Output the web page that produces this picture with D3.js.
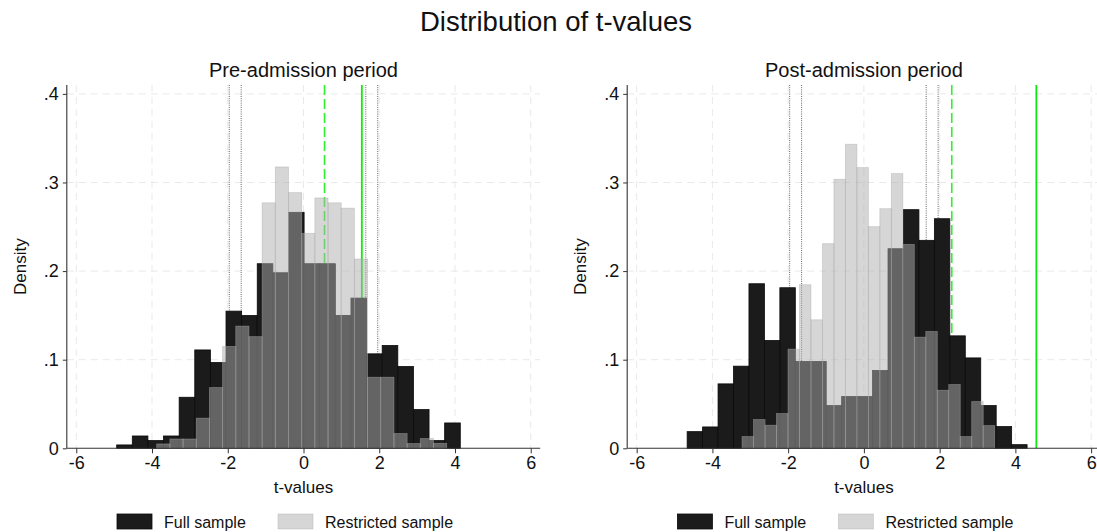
<!DOCTYPE html>
<html>
<head>
<meta charset="utf-8">
<script src="https://cdn.jsdelivr.net/npm/d3@7"></script>
<style>
  body { margin: 0; background: #fff; }
  svg { display: block; font-family: "Liberation Sans", Arial, sans-serif; }
</style>
</head>
<body>
<svg id="chart" width="1097" height="532"></svg>
<script>
// ---- data ----
const mainTitle = "Distribution of t-values";
const panelTitles = ["Pre-admission period", "Post-admission period"];
const seriesNames = ["Full sample", "Restricted sample"];
const xTicks = [-6, -4, -2, 0, 2, 4, 6];
const yTicks = [0, 0.1, 0.2, 0.3, 0.4];

// Histogram bins: first bin start (t), bin width (t), density per bin
const preFullStart = -4.933, preFullWidth = 0.4124;
const preFullDensity = [0.0038, 0.0139, 0.0087, 0.0139, 0.0576, 0.111, 0.0968, 0.1548, 0.1499, 0.2083, 0.1981,
                        0.2663, 0.2083, 0.2083, 0.150, 0.1695, 0.1066, 0.116, 0.0923, 0.0437, 0.0087, 0.0286];
const preRestrictedStart = -3.876, preRestrictedWidth = 0.348;
const preRestrictedDensity = [0.0049, 0.0105, 0.0105, 0.034, 0.0685, 0.1149, 0.1379, 0.126, 0.277, 0.3175, 0.2885,
                              0.2426, 0.2825, 0.277, 0.271, 0.2136, 0.0802, 0.0802, 0.0166, 0.0053, 0.011, 0.0056];
const postFullStart = -4.667, postFullWidth = 0.408;
const postFullDensity = [0.0188, 0.0241, 0.0727, 0.0927, 0.1857, 0.1217, 0.1812, 0.098, 0.098, 0.0482, 0.0584,
                         0.0584, 0.0878, 0.2252, 0.2693, 0.2347, 0.2591, 0.1269, 0.102, 0.0482, 0.0245, 0.0041];
const postRestrictedStart = -3.217, postRestrictedWidth = 0.3032;
const postRestrictedDensity = [0.0132, 0.0324, 0.026, 0.0392, 0.1119, 0.1846, 0.145, 0.2309, 0.3036, 0.3431, 0.3168,
                               0.2501, 0.2704, 0.310, 0.2301, 0.1254, 0.1318, 0.0655, 0.0719, 0.0132, 0.0527, 0.0256];

// Reference lines
const criticalValues = [-1.96, -1.645, 1.645, 1.96];
const greenDashed = [0.555, 2.32];
const greenSolid = [1.54, 4.553];

// ---- layout ----
const svg = d3.select("#chart");
const plotTop = 85, plotBottom = 448.3, plotW = 473.4;
const panelLeft = [66.8, 627.2];
const fullFill = "#1b1b1b", restrictedFill = "#adadad";

svg.append("text")
  .attr("x", 556).attr("y", 31)
  .attr("text-anchor", "middle")
  .attr("font-size", 27.5).attr("fill", "#111")
  .text(mainTitle);

const panels = [
  { full: [preFullStart, preFullWidth, preFullDensity],
    restricted: [preRestrictedStart, preRestrictedWidth, preRestrictedDensity] },
  { full: [postFullStart, postFullWidth, postFullDensity],
    restricted: [postRestrictedStart, postRestrictedWidth, postRestrictedDensity] }
];

const toBins = ([start, width, dens]) =>
  dens.map((d, i) => ({ x0: start + i * width, x1: start + (i + 1) * width, d }));

const fmtY = v => v === 0 ? "0" : d3.format(".1f")(v).replace(/^0/, "");

panels.forEach((p, pi) => {
  const left = panelLeft[pi];
  const x = d3.scaleLinear().domain([-6.25, 6.25]).range([left, left + plotW]);
  const y = d3.scaleLinear().domain([0, 0.41]).range([plotBottom, plotTop]);
  const g = svg.append("g");

  // grid
  g.selectAll(".gx").data(xTicks).join("line")
    .attr("x1", d => x(d)).attr("x2", d => x(d))
    .attr("y1", plotTop).attr("y2", plotBottom)
    .attr("stroke", "#e9e9e9").attr("stroke-width", 1).attr("stroke-dasharray", "7,5");
  g.selectAll(".gy").data(yTicks.filter(v => v > 0)).join("line")
    .attr("x1", left).attr("x2", left + plotW)
    .attr("y1", d => y(d)).attr("y2", d => y(d))
    .attr("stroke", "#e9e9e9").attr("stroke-width", 1).attr("stroke-dasharray", "7,5");

  // critical values (dotted)
  g.selectAll(".crit").data(criticalValues).join("line")
    .attr("x1", d => x(d)).attr("x2", d => x(d))
    .attr("y1", plotTop).attr("y2", plotBottom)
    .attr("stroke", "#666").attr("stroke-width", 1).attr("stroke-dasharray", "1,1.2");

  // green thresholds
  g.append("line")
    .attr("x1", x(greenDashed[pi])).attr("x2", x(greenDashed[pi]))
    .attr("y1", plotTop).attr("y2", plotBottom)
    .attr("stroke", "#2ef02e").attr("stroke-width", 1.6).attr("stroke-dasharray", "10,4");
  g.append("line")
    .attr("x1", x(greenSolid[pi])).attr("x2", x(greenSolid[pi]))
    .attr("y1", plotTop).attr("y2", plotBottom)
    .attr("stroke", "#10e810").attr("stroke-width", 1.8);

  // full sample bars
  g.selectAll(".full").data(toBins(p.full)).join("rect")
    .attr("x", d => x(d.x0)).attr("width", d => x(d.x1) - x(d.x0))
    .attr("y", d => y(d.d)).attr("height", d => y(0) - y(d.d))
    .attr("fill", fullFill).attr("stroke", "#0a0a0a").attr("stroke-width", 0.8);

  // restricted sample bars (translucent overlay)
  g.selectAll(".restr").data(toBins(p.restricted)).join("rect")
    .attr("x", d => x(d.x0)).attr("width", d => x(d.x1) - x(d.x0))
    .attr("y", d => y(d.d)).attr("height", d => y(0) - y(d.d))
    .attr("fill", restrictedFill).attr("fill-opacity", 0.5)
    .attr("stroke", restrictedFill).attr("stroke-opacity", 0.5).attr("stroke-width", 0.8);

  // axes
  const xAxis = d3.axisBottom(x).tickValues(xTicks).tickSize(5).tickPadding(3).tickFormat(d => String(d));
  const yAxis = d3.axisLeft(y).tickValues(yTicks).tickSize(4).tickPadding(4).tickFormat(fmtY);
  const gx = g.append("g").attr("transform", `translate(0,${plotBottom})`).call(xAxis);
  const gy = g.append("g").attr("transform", `translate(${left},0)`).call(yAxis);
  [gx, gy].forEach(a => {
    a.select(".domain").attr("stroke", "#333").attr("stroke-width", 1.1);
    a.selectAll(".tick line").attr("stroke", "#333");
    a.selectAll(".tick text").attr("fill", "#111").attr("font-size", 18)
      .attr("font-family", "'Liberation Sans', Arial, sans-serif");
  });
  gx.select(".domain").attr("d", `M${left},0H${left + plotW}`);
  gy.select(".domain").attr("d", `M0,${plotTop}V${plotBottom}`);

  // titles
  const cx = x(0);
  g.append("text").attr("x", cx).attr("y", 76.5).attr("text-anchor", "middle")
    .attr("font-size", 20).attr("fill", "#111").text(panelTitles[pi]);
  g.append("text").attr("x", cx).attr("y", 493).attr("text-anchor", "middle")
    .attr("font-size", 17).attr("fill", "#111").text("t-values");
  g.append("text")
    .attr("transform", `translate(${left - 41},${(plotTop + plotBottom) / 2}) rotate(-90)`)
    .attr("text-anchor", "middle").attr("font-size", 17).attr("fill", "#111").text("Density");

  // legend
  const lg = g.append("g").attr("transform", `translate(${left},0)`);
  const items = [
    { name: seriesNames[0], bx: 50.2, tx: 97.2, fill: fullFill, op: 1 },
    { name: seriesNames[1], bx: 211.2, tx: 258.2, fill: restrictedFill, op: 0.5 }
  ];
  items.forEach(it => {
    lg.append("rect").attr("x", it.bx).attr("y", 514).attr("width", 35).attr("height", 15)
      .attr("fill", it.fill).attr("fill-opacity", it.op)
      .attr("stroke", it.op === 1 ? "#0a0a0a" : it.fill).attr("stroke-opacity", it.op).attr("stroke-width", 0.8);
    lg.append("text").attr("x", it.tx).attr("y", 527.5)
      .attr("font-size", 16).attr("fill", "#111").text(it.name);
  });
});
</script>
</body>
</html>
